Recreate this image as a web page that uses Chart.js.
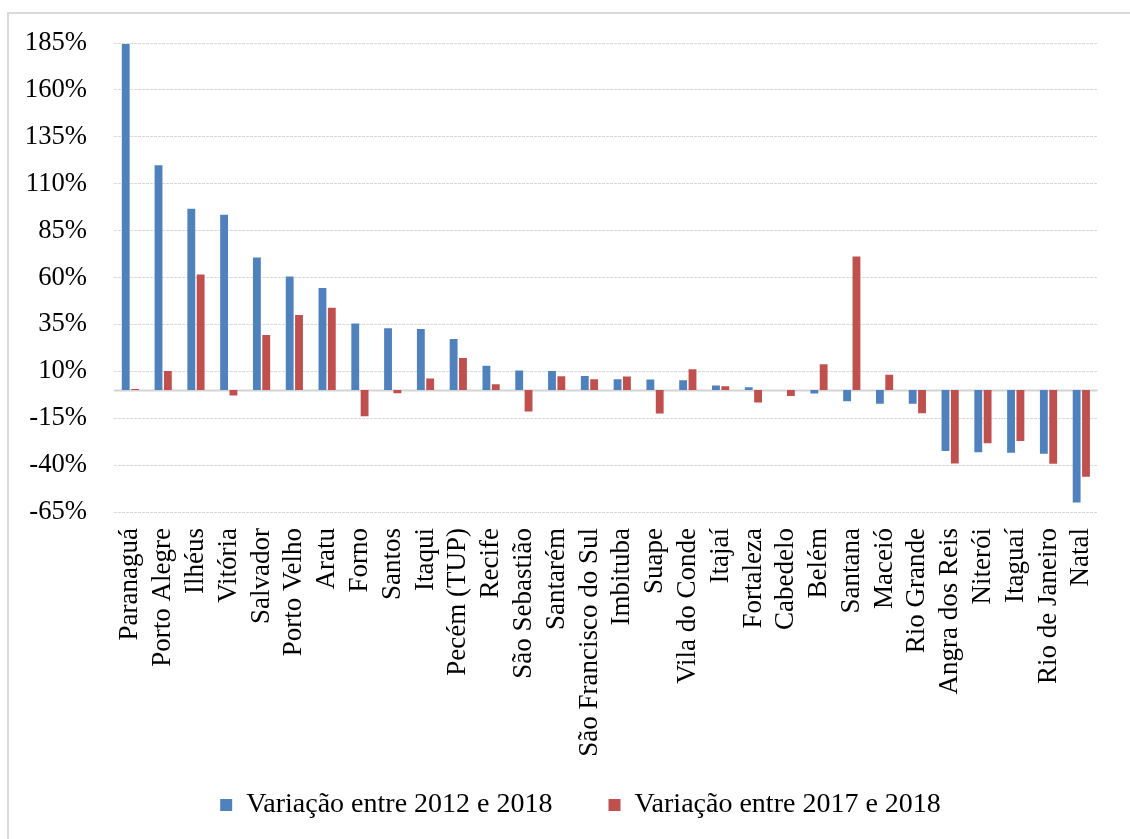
<!DOCTYPE html>
<html lang="pt">
<head>
<meta charset="utf-8">
<title>Variação portuária</title>
<script src="https://cdn.jsdelivr.net/npm/chart.js@4.4.1/dist/chart.umd.min.js"></script>
<style>
  html, body { margin: 0; padding: 0; background: #ffffff; overflow: hidden; }
  #frame {
    position: absolute; left: 7px; top: 12px;
    width: 1140px; height: 850px;
    border-left: 2px solid #d9d9d9; border-top: 2px solid #d9d9d9;
    box-sizing: border-box;
  }
  #wrap { position: absolute; left: 0; top: 0; width: 1130px; height: 839px; }
</style>
</head>
<body>
<div id="frame"></div>
<div id="wrap"><canvas id="chart" width="1130" height="839"></canvas></div>
<script>
// Portos, na ordem do gráfico
const categories = [
  'Paranaguá', 'Porto Alegre', 'Ilhéus', 'Vitória', 'Salvador', 'Porto Velho',
  'Aratu', 'Forno', 'Santos', 'Itaqui', 'Pecém (TUP)', 'Recife', 'São Sebastião',
  'Santarém', 'São Francisco do Sul', 'Imbituba', 'Suape', 'Vila do Conde',
  'Itajaí', 'Fortaleza', 'Cabedelo', 'Belém', 'Santana', 'Maceió', 'Rio Grande',
  'Angra dos Reis', 'Niterói', 'Itaguaí', 'Rio de Janeiro', 'Natal'
];

// Variação (%) entre 2012 e 2018
const var2012a2018 = [
  184.5, 119.8, 96.7, 93.5, 70.6, 60.5,
  54.4, 35.5, 32.9, 32.5, 27.2, 12.9, 10.4,
  10.2, 7.5, 5.8, 5.6, 5.2,
  2.4, 1.5, 0.0, -1.9, -5.9, -7.3, -7.3,
  -32.5, -33.1, -33.4, -34.0, -60.0
];

// Variação (%) entre 2017 e 2018
const var2017a2018 = [
  0.6, 10.2, 61.6, -2.9, 29.4, 40.0,
  43.9, -14.0, -1.7, 6.1, 17.1, 3.1, -11.4,
  7.4, 5.8, 7.2, -12.5, 11.1,
  2.0, -6.6, -3.1, 13.7, 71.2, 8.1, -12.3,
  -39.1, -28.3, -27.2, -39.3, -46.2
];

const seriesNames = ['Variação entre 2012 e 2018', 'Variação entre 2017 e 2018'];

// Eixo Y: -65% a 185%, de 25 em 25
const yMin = -65;
const yMax = 185;
const yStep = 25;

const FONT = "'Liberation Serif', 'Times New Roman', serif";
const CANVAS_H = 839;
const PAD_BOTTOM = 10;
const AREA_BOTTOM = 512;

// Linha do zero, contínua e mais forte que as grades pontilhadas
const zeroLine = {
  id: 'zeroLine',
  beforeDatasetsDraw(chart) {
    const { ctx, chartArea, scales } = chart;
    const y = Math.round(scales.y.getPixelForValue(0)) + 0.5;
    ctx.save();
    ctx.strokeStyle = '#d4d4d4';
    ctx.lineWidth = 2;
    ctx.beginPath();
    ctx.moveTo(chartArea.left, y);
    ctx.lineTo(chartArea.right, y);
    ctx.stroke();
    ctx.restore();
  }
};

// Rótulos longos do eixo X podem descer até a faixa da legenda;
// a legenda fica centrada sob a área de plotagem.
const layoutTweaks = {
  id: 'layoutTweaks',
  afterLayout(chart) {
    const x = chart.scales.x;
    x.bottom = chart.height;
    const lg = chart.legend;
    if (lg) {
      lg.left += 24;
      lg.right += 24;
    }
  }
};

new Chart(document.getElementById('chart'), {
  type: 'bar',
  data: {
    labels: categories,
    datasets: [
      {
        label: seriesNames[0],
        data: var2012a2018,
        backgroundColor: '#4f81bd',
        categoryPercentage: 0.57,
        barPercentage: 0.84
      },
      {
        label: seriesNames[1],
        data: var2017a2018,
        backgroundColor: '#c0504d',
        categoryPercentage: 0.57,
        barPercentage: 0.84
      }
    ]
  },
  options: {
    responsive: false,
    devicePixelRatio: 1,
    animation: false,
    layout: { padding: { top: 42, left: 0, right: 17, bottom: PAD_BOTTOM } },
    plugins: {
      legend: {
        position: 'bottom',
        labels: {
          color: '#000000',
          font: { family: FONT, size: 28 },
          boxWidth: 12,
          boxHeight: 12,
          padding: 56
        }
      },
      tooltip: { enabled: false }
    },
    scales: {
      x: {
        grid: { display: false, drawTicks: false },
        border: { display: false },
        ticks: {
          color: '#000000',
          font: { family: FONT, size: 27 },
          minRotation: 90,
          maxRotation: 90,
          autoSkip: false,
          padding: 16
        },
        afterFit(scale) {
          const lg = scale.chart.legend;
          scale.height = CANVAS_H - PAD_BOTTOM - (lg ? lg.height : 0) - AREA_BOTTOM;
        }
      },
      y: {
        min: yMin,
        max: yMax,
        grid: {
          color: '#d9d9d9',
          lineWidth: 1,
          drawTicks: false
        },
        border: { display: false, dash: [3, 1] },
        ticks: {
          stepSize: yStep,
          color: '#000000',
          font: { family: FONT, size: 26.67 },
          padding: 27,
          callback: (v) => v + '%'
        },
        afterFit(scale) { scale.width = 114; }
      }
    }
  },
  plugins: [zeroLine, layoutTweaks]
});
</script>
</body>
</html>
